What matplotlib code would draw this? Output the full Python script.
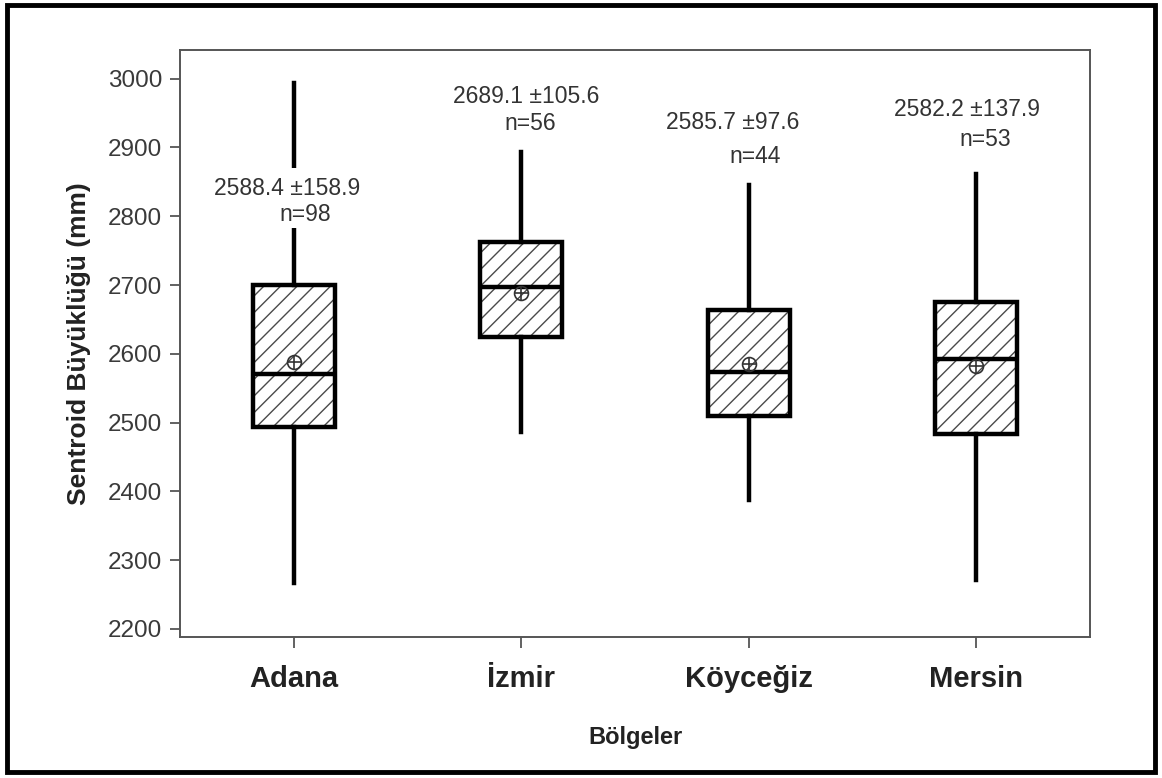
import matplotlib
matplotlib.use("Agg")
import matplotlib.pyplot as plt
from matplotlib.patches import PathPatch, Rectangle

plt.rcParams['font.family'] = ['Liberation Sans', 'DejaVu Sans']
plt.rcParams['hatch.linewidth'] = 1.0

# data
regions = ['Adana', 'İzmir', 'Köyceğiz', 'Mersin']
whisker_low = [2267, 2487, 2388, 2271]
q1 = [2494, 2624, 2509, 2484]
median = [2570, 2697, 2573, 2593]
q3 = [2700, 2763, 2664, 2676]
whisker_high = [2993, 2894, 2846, 2862]
means = [2588.4, 2689.1, 2585.7, 2582.2]
sds = [158.9, 105.6, 97.6, 137.9]
counts = [98, 56, 44, 53]

# where the labels sit (data units)
label_y1 = [2841, 2974, 2937, 2955]
label_y2 = [2802, 2935, 2887, 2911]
label_dx1 = [-0.03, 0.02, -0.07, -0.04]
label_dx2 = [0.05, 0.04, 0.03, 0.04]

positions = list(range(1, len(regions) + 1))
stats = []
for i in range(len(regions)):
    stats.append(dict(med=median[i], q1=q1[i], q3=q3[i],
                      whislo=whisker_low[i], whishi=whisker_high[i],
                      fliers=[], label=regions[i]))

fig = plt.figure(figsize=(11.62, 7.78), dpi=100)
ax = fig.add_axes([0.155, 0.181, 0.783, 0.755])

parts = ax.bxp(stats, positions=positions, widths=0.36, patch_artist=True,
               showcaps=False, showfliers=False,
               boxprops=dict(facecolor='white', edgecolor='#4a4a4a',
                             hatch='//', linewidth=0),
               whiskerprops=dict(color='black', linewidth=3.2),
               medianprops=dict(color='black', linewidth=3.2))
# thick outline on top of the hatched box
for box in parts['boxes']:
    ax.add_patch(PathPatch(box.get_path(), fill=False, edgecolor='black',
                           linewidth=3.2, zorder=3))

# mean markers (circle with plus)
ax.plot(positions, means, 'o', mfc='none', mec='#333333', ms=10, mew=1.2, zorder=4)
ax.plot(positions, means, '+', color='#333333', ms=10, mew=1.2, zorder=4)

# mean +- sd and n above each box; white backing cuts the whisker as in the original
for i in range(len(regions)):
    ax.text(positions[i] + label_dx1[i], label_y1[i],
            '%.1f \u00b1%.1f' % (means[i], sds[i]),
            ha='center', va='center', fontsize=16.5, color='#333333',
            bbox=dict(facecolor='white', edgecolor='none', pad=6), zorder=5)
    ax.text(positions[i] + label_dx2[i], label_y2[i], 'n=%d' % counts[i],
            ha='center', va='center', fontsize=16.5, color='#333333',
            bbox=dict(facecolor='white', edgecolor='none', pad=1), zorder=6)

ax.set_xlim(0.5, 4.5)
ax.set_ylim(2188, 3042)
ax.set_yticks(range(2200, 3001, 100))
ax.set_xticks(positions)
ax.set_xticklabels(regions, fontsize=21, fontweight='bold', color='#222222')
ax.tick_params(axis='y', labelsize=17.5, labelcolor='#3a3a3a', length=7,
               width=1.3, color='#555555', direction='out', pad=6)
ax.tick_params(axis='x', length=8, width=1.3, color='#555555', pad=12)
for sp in ax.spines.values():
    sp.set_color('#555555')
    sp.set_linewidth(1.4)

ax.set_ylabel('Sentroid Büyüklüğü (mm)', fontsize=19, fontweight='bold',
              color='#222222', labelpad=12)
ax.set_xlabel('Bölgeler', fontsize=17, fontweight='bold', color='#222222',
              labelpad=24)

# outer frame round the whole picture
fig.patches.append(Rectangle((0.006, 0.008), 0.988, 0.985, transform=fig.transFigure,
                             fill=False, edgecolor='black', linewidth=3.5))

fig.savefig('out.png', dpi=100)
